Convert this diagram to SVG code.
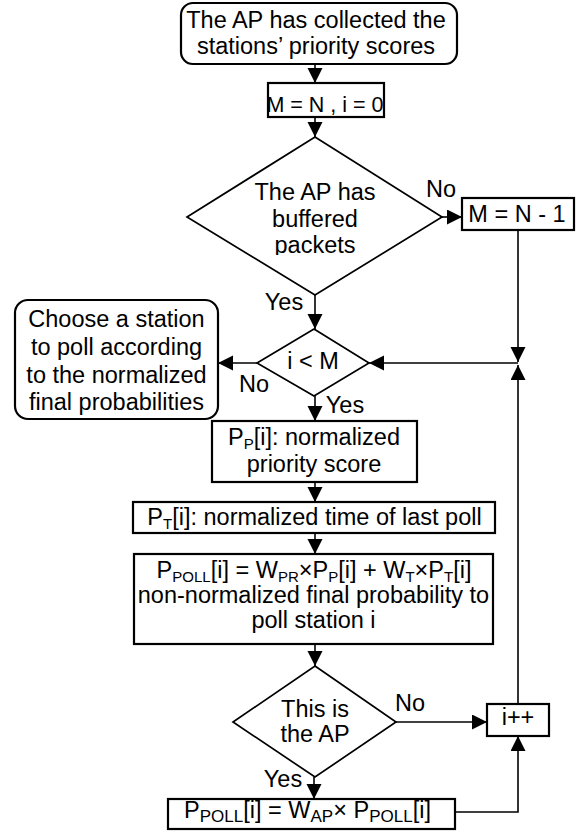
<svg xmlns="http://www.w3.org/2000/svg" width="581" height="831" viewBox="0 0 581 831">
<style>
text{font-family:"Liberation Sans",Arial,sans-serif;font-size:23.5px;fill:#000;text-anchor:middle}
.sub{font-size:15px}
.sub2{font-size:17px}
.box{fill:#fff;stroke:#000;stroke-width:2.2}
.dia{fill:#fff;stroke:#000;stroke-width:1.7}
.ln{fill:none;stroke:#000;stroke-width:1.6}
.arr{marker-end:url(#ah)}
</style>
<defs>
<marker id="ah" markerUnits="userSpaceOnUse" markerWidth="16" markerHeight="16" refX="15" refY="7.5" orient="auto">
<path d="M0,0 L15,7.5 L0,15 z" fill="#000"/>
</marker>
<clipPath id="clipPk"><rect x="180" y="230" width="270" height="25"/></clipPath>
</defs>
<rect width="581" height="831" fill="#fff"/>

<g id="connectors">
<line class="ln arr" x1="315" y1="64" x2="315" y2="83"/>
<line class="ln arr" x1="315" y1="117" x2="315" y2="137"/>
<line class="ln arr" x1="442" y1="217" x2="462" y2="217"/>
<line class="ln arr" x1="518" y1="230" x2="518" y2="362"/>
<line class="ln arr" x1="518" y1="363" x2="369" y2="363"/>
<line class="ln arr" x1="518" y1="704" x2="518" y2="365"/>
<line class="ln arr" x1="315" y1="295" x2="315" y2="329"/>
<line class="ln arr" x1="257" y1="363" x2="218" y2="363"/>
<line class="ln arr" x1="315" y1="396" x2="315" y2="421"/>
<line class="ln arr" x1="315" y1="482" x2="315" y2="502"/>
<line class="ln arr" x1="315" y1="533" x2="315" y2="554"/>
<line class="ln arr" x1="315" y1="644" x2="315" y2="666"/>
<line class="ln arr" x1="396" y1="722" x2="487" y2="722"/>
<line class="ln arr" x1="314" y1="777" x2="314" y2="799"/>
<polyline class="ln arr" points="456,812 518,812 518,736"/>
<text x="441" y="197">No</text>
<text x="284" y="310">Yes</text>
<text x="254" y="392">No</text>
<text x="345" y="413">Yes</text>
<text x="410" y="711">No</text>
<text x="283" y="787">Yes</text>
</g>

<g id="start">
<rect class="box" x="181" y="3" width="276" height="61" rx="12"/>
<text x="316" y="28">The AP has collected the</text>
<text x="316" y="54">stations’ priority scores</text>
</g>

<g id="init">
<rect class="box" x="268" y="83" width="116" height="34"/>
<text x="325" y="112" style="font-size:21.5px">M = N , i = 0</text>
</g>

<g id="buffered">
<polygon class="dia" points="315,137 442,217 315,295 187,217"/>
<text x="315" y="200">The AP has</text>
<text x="315" y="227">buffered</text>
<text x="315" y="253" clip-path="url(#clipPk)">packets</text>
</g>

<g id="mn1">
<rect class="box" x="462" y="198" width="112" height="32"/>
<text x="517" y="222">M = N - 1</text>
</g>

<g id="iltm">
<polygon class="dia" points="314,329 369,363 314,396 257,363"/>
<text x="313" y="369">i &lt; M</text>
</g>

<g id="choose">
<rect class="box" x="15" y="300" width="203" height="119" rx="13"/>
<text x="116.5" y="327">Choose a station</text>
<text x="116.5" y="355">to poll according</text>
<text x="116.5" y="383">to the normalized</text>
<text x="116.5" y="410">final probabilities</text>
</g>

<g id="pp">
<rect class="box" x="212" y="421" width="205" height="61"/>
<text x="314" y="445">P<tspan class="sub" dy="4">P</tspan><tspan dy="-4">[i]: normalized</tspan></text>
<text x="314" y="472">priority score</text>
</g>

<g id="pt">
<rect class="box" x="133" y="502" width="362" height="31"/>
<text x="314.5" y="525">P<tspan class="sub" dy="4">T</tspan><tspan dy="-4">[i]: normalized time of last poll</tspan></text>
</g>

<g id="ppoll">
<rect class="box" x="134" y="554" width="359" height="90"/>
<text x="314" y="578">P<tspan class="sub" dy="4">POLL</tspan><tspan dy="-4">[i] = W</tspan><tspan class="sub" dy="4">PR</tspan><tspan dy="-4">×P</tspan><tspan class="sub" dy="4">P</tspan><tspan dy="-4">[i] + W</tspan><tspan class="sub" dy="4">T</tspan><tspan dy="-4">×P</tspan><tspan class="sub" dy="4">T</tspan><tspan dy="-4">[i]</tspan></text>
<text x="313.5" y="603">non-normalized final probability to</text>
<text x="313.5" y="628">poll station i</text>
</g>

<g id="isap">
<polygon class="dia" points="315,666 396,722 315,777 233,722"/>
<text x="315" y="717">This is</text>
<text x="315" y="742">the AP</text>
</g>

<g id="inc">
<rect class="box" x="487" y="704" width="62" height="32"/>
<text x="518" y="725">i++</text>
</g>

<g id="apw">
<rect class="box" x="168" y="799" width="287" height="30"/>
<text x="307.5" y="818">P<tspan class="sub2" dy="4">POLL</tspan><tspan dy="-4">[i] = W</tspan><tspan class="sub2" dy="4">AP</tspan><tspan dy="-4">× P</tspan><tspan class="sub2" dy="4">POLL</tspan><tspan dy="-4">[i]</tspan></text>
</g>
</svg>
